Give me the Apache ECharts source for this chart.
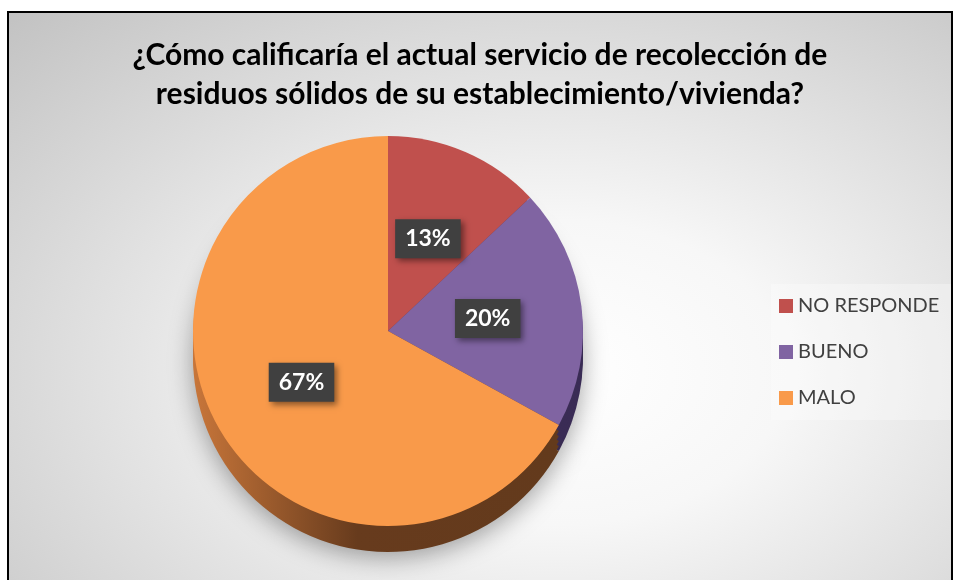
<!DOCTYPE html>
<html>
<head>
<meta charset="utf-8">
<script src="https://cdn.jsdelivr.net/npm/echarts@6/dist/echarts.min.js"></script>
<style>
html, body { margin: 0; padding: 0; background: #fff; overflow: hidden; }
#frame {
    position: absolute; left: 7px; top: 11px;
    width: 942px; height: 580px;
    border: 2px solid #000;
    background: radial-gradient(ellipse at 58% 62%, #ffffff 0%, #f7f7f7 30%, #c2c2c2 100%);
}
#container { width: 942px; height: 580px; }
</style>
</head>
<body>
<div id="frame"><div id="container"></div></div>
<script>
// datos de la encuesta
var categorias = ['NO RESPONDE', 'BUENO', 'MALO'];
var porcentajes = [13, 20, 67];
var coloresCara = ['#C0504D', '#8064A2', '#F99A4A'];
var coloresLado = ['#7d3331', '#3a2c55', {
    type: 'linear', x: 0, y: 0, x2: 1, y2: 0,
    colorStops: [{offset: 0, color: '#c8763a'}, {offset: 0.45, color: '#673b1d'}, {offset: 1, color: '#633a1c'}]
}];

var myChart = echarts.init(document.getElementById('container'));

var cx = 379, cy = 318, radio = 195;
var profundidad = [26, 21, 16, 11, 6];

function datosPie(colores) {
    return categorias.map(function (n, i) {
        return {name: n, value: porcentajes[i], itemStyle: {color: colores[i]}};
    });
}

var series = [{
    name: 'cara',
    type: 'pie',
    z: 5,
    center: [cx, cy],
    radius: [0, radio],
    startAngle: 90,
    clockwise: true,
    percentPrecision: 0,
    silent: true,
    data: datosPie(coloresCara),
    label: {
        show: true,
        position: 'inside',
        formatter: '{d}%',
        color: '#fff',
        fontFamily: 'Lato',
        fontWeight: 'bold',
        fontSize: 23,
        backgroundColor: '#404040',
        padding: [9, 10, 7, 10],
        shadowBlur: 6,
        shadowColor: 'rgba(0,0,0,0.45)',
        shadowOffsetX: 3,
        shadowOffsetY: 3
    },
    labelLine: {show: false}
}];

profundidad.forEach(function (d, k) {
    series.push({
        name: 'lado' + k,
        type: 'pie',
        z: 2,
        center: [cx, cy + d],
        radius: [0, radio],
        startAngle: 90,
        silent: true,
        data: datosPie(coloresLado),
        label: {show: false},
        labelLine: {show: false},
        itemStyle: k === 0 ? {shadowBlur: 25, shadowColor: 'rgba(0,0,0,0.35)', shadowOffsetY: 6} : {}
    });
});

var option = {
    animation: false,
    title: {
        text: '¿Cómo calificaría el actual servicio de recolección de\nresiduos sólidos de su establecimiento/vivienda?',
        left: 'center',
        top: 18,
        textStyle: {
            fontFamily: 'Lato',
            fontWeight: 'bold',
            fontSize: 30,
            lineHeight: 39,
            color: '#000'
        }
    },
    legend: {
        orient: 'vertical',
        left: 762,
        top: 271,
        padding: [12, 12, 12, 8],
        itemGap: 26,
        itemWidth: 14,
        itemHeight: 14,
        icon: 'rect',
        backgroundColor: 'rgba(255,255,255,0.3)',
        data: categorias,
        textStyle: {fontFamily: 'Lato', fontSize: 20, color: '#404040'}
    },
    series: series
};
myChart.setOption(option);
</script>
</body>
</html>
